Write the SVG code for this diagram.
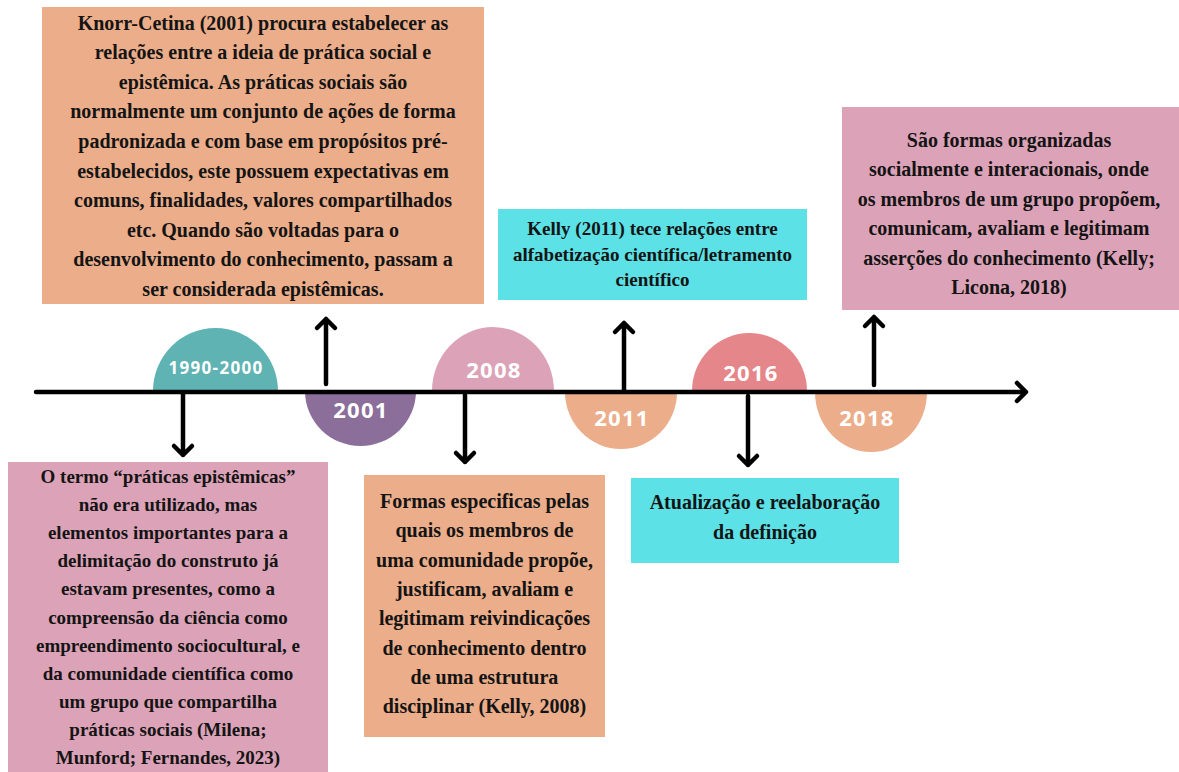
<svg xmlns="http://www.w3.org/2000/svg" width="1179" height="772" viewBox="0 0 1179 772">
<style>
.t{font-family:"Liberation Serif","Times New Roman",serif;font-weight:bold;fill:#141414;text-anchor:middle}
.yr{font-family:"Open Sans","Liberation Sans",sans-serif;font-weight:bold;fill:#ffffff;text-anchor:middle;letter-spacing:1.3px}
.ln{stroke:#000;stroke-width:4.5;fill:none;stroke-linecap:round;stroke-linejoin:round}
</style>
<rect width="1179" height="772" fill="#ffffff"/>
<g id="sc-1990"><path d="M153,391 A62.5,63 0 0 1 278,391 Z" fill="#5FB3B3"/><text class="yr" x="216" y="374" font-size="17">1990-2000</text></g>
<g id="sc-2001"><path d="M305,391 A55.5,55 0 0 0 416,391 Z" fill="#8B6E9A"/><text class="yr" x="361" y="418" font-size="22">2001</text></g>
<g id="sc-2008"><path d="M432,391 A61,64 0 0 1 554,391 Z" fill="#DCA3B8"/><text class="yr" x="494" y="378" font-size="22">2008</text></g>
<g id="sc-2011"><path d="M565,392 A56,57 0 0 0 677,392 Z" fill="#EBAD8A"/><text class="yr" x="622" y="426" font-size="22">2011</text></g>
<g id="sc-2016"><path d="M692,391 A57.5,58 0 0 1 807,391 Z" fill="#E5868A"/><text class="yr" x="751" y="381" font-size="22">2016</text></g>
<g id="sc-2018"><path d="M815,392 A56,60 0 0 0 927,392 Z" fill="#EBAD8A"/><text class="yr" x="867" y="426" font-size="22">2018</text></g>
<g id="connectors">
<path class="ln" d="M36,392 H1025 M1017,383 L1026,392 L1017,401"/>
<path class="ln" d="M183,394 V455 M174,446 L183,455 L192,446"/>
<path class="ln" d="M326,384 V319 M317,328 L326,319 L335,328"/>
<path class="ln" d="M465,395 V462 M456,453 L465,462 L474,453"/>
<path class="ln" d="M624,390 V323 M615,332 L624,323 L633,332"/>
<path class="ln" d="M748,396 V465 M739,456 L748,465 L757,456"/>
<path class="ln" d="M874,385 V317 M865,326 L874,317 L883,326"/>
</g>
<g id="box-knorr">
<rect x="42" y="7" width="442" height="297" fill="#EBAD8A"/>
<text class="t" font-size="20" x="263" y="29.5">Knorr-Cetina (2001) procura estabelecer as<tspan x="263" dy="29.6">relações entre a ideia de prática social e</tspan><tspan x="263" dy="29.6">epistêmica. As práticas sociais são</tspan><tspan x="263" dy="29.6">normalmente um conjunto de ações de forma</tspan><tspan x="263" dy="29.6">padronizada e com base em propósitos pré-</tspan><tspan x="263" dy="29.6">estabelecidos, este possuem expectativas em</tspan><tspan x="263" dy="29.6">comuns, finalidades, valores compartilhados</tspan><tspan x="263" dy="29.6">etc. Quando são voltadas para o</tspan><tspan x="263" dy="29.6">desenvolvimento do  conhecimento, passam a</tspan><tspan x="263" dy="29.6">ser considerada epistêmicas.</tspan></text>
</g>
<g id="box-1990">
<rect x="8" y="462" width="320" height="310" fill="#DCA3B8"/>
<text class="t" font-size="19" x="168" y="483">O termo “práticas epistêmicas”<tspan x="168" dy="28.1">não era utilizado, mas</tspan><tspan x="168" dy="28.1">elementos importantes para a</tspan><tspan x="168" dy="28.1">delimitação do construto já</tspan><tspan x="168" dy="28.1">estavam presentes, como a</tspan><tspan x="168" dy="28.1">compreensão da ciência como</tspan><tspan x="168" dy="28.1">empreendimento sociocultural, e</tspan><tspan x="168" dy="28.1">da comunidade científica como</tspan><tspan x="168" dy="28.1">um grupo que compartilha</tspan><tspan x="168" dy="28.1">práticas sociais (Milena;</tspan><tspan x="168" dy="28.1">Munford; Fernandes, 2023)</tspan></text>
</g>
<g id="box-2008">
<rect x="364" y="475" width="241" height="262" fill="#EBAD8A"/>
<text class="t" font-size="20" x="484.5" y="508">Formas especificas pelas<tspan x="484.5" dy="29.3">quais os membros de</tspan><tspan x="484.5" dy="29.3">uma comunidade propõe,</tspan><tspan x="484.5" dy="29.3">justificam, avaliam e</tspan><tspan x="484.5" dy="29.3">legitimam reivindicações</tspan><tspan x="484.5" dy="29.3">de conhecimento dentro</tspan><tspan x="484.5" dy="29.3">de uma estrutura</tspan><tspan x="484.5" dy="29.3">disciplinar (Kelly, 2008)</tspan></text>
</g>
<g id="box-2011">
<rect x="498" y="209" width="309" height="91" fill="#5CE1E6"/>
<text class="t" font-size="19" x="652.5" y="235">Kelly (2011) tece relações entre<tspan x="652.5" dy="25.5">alfabetização científica/letramento</tspan><tspan x="652.5" dy="25.5">científico</tspan></text>
</g>
<g id="box-2016">
<rect x="631" y="478" width="268" height="85" fill="#5CE1E6"/>
<text class="t" font-size="20" x="765" y="509">Atualização e reelaboração<tspan x="765" dy="30">da definição</tspan></text>
</g>
<g id="box-2018">
<rect x="842" y="107" width="337" height="203" fill="#DCA3B8"/>
<text class="t" font-size="20" x="1009" y="147">São formas organizadas<tspan x="1009" dy="29.4">socialmente e interacionais, onde</tspan><tspan x="1009" dy="29.4">os membros de um grupo propõem,</tspan><tspan x="1009" dy="29.4">comunicam, avaliam e legitimam</tspan><tspan x="1009" dy="29.4">asserções do conhecimento (Kelly;</tspan><tspan x="1009" dy="29.4">Licona, 2018)</tspan></text>
</g>
</svg>
